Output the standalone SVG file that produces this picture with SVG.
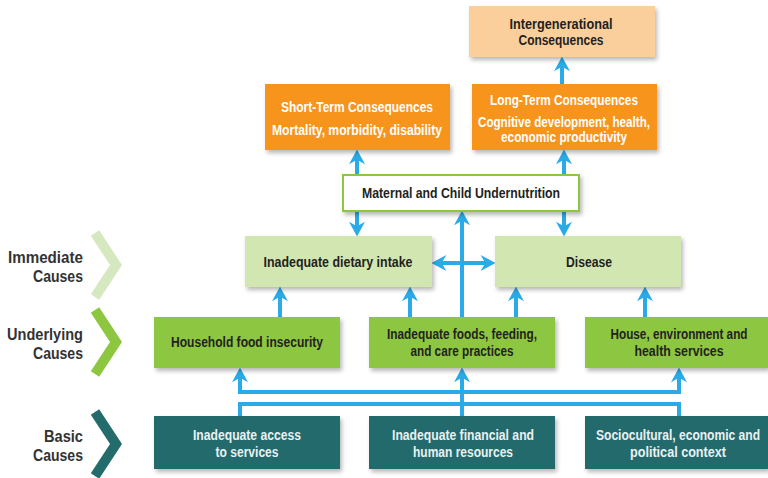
<svg xmlns="http://www.w3.org/2000/svg" width="768" height="478" viewBox="0 0 768 478">
<defs>
<filter id="sh" x="-10%" y="-10%" width="130%" height="140%">
<feDropShadow dx="2" dy="3" stdDeviation="2" flood-color="#000" flood-opacity="0.28"/>
</filter>
<marker id="ah" markerUnits="userSpaceOnUse" markerWidth="16" markerHeight="16" viewBox="0 0 14 14" refX="9" refY="7" orient="auto-start-reverse" overflow="visible">
<path d="M0,0 L13,7 L0,14 L4,7 z" fill="#2AAAE6"/>
</marker>
</defs>
<style>
text{font-family:"Liberation Sans",Arial,sans-serif;font-weight:bold;text-anchor:middle;dominant-baseline:central;font-size:14.5px}
.lbl{font-size:16px;fill:#333333;text-anchor:end}
.dk{fill:#231F20}
.wh{fill:#FFFFFF}
.lw{fill:#EAF1F2}
.con{fill:none;stroke:#2AAAE6;stroke-width:4}
.orange{fill:#F7941D;filter:url(#sh)}
.peach{fill:#FBCF9B;filter:url(#sh)}
.imm{fill:#D2E6B1;filter:url(#sh)}
.und{fill:#8DC63F;filter:url(#sh)}
.bas{fill:#246B6C;filter:url(#sh)}
.chev{fill:none;stroke-width:10;stroke-linejoin:miter;stroke-linecap:butt}
</style>
<rect width="768" height="478" fill="#FFFFFF"/>

<g id="levels">
<polyline class="chev" points="95,233 116,265 95,297" stroke="#D5E8BF"/>
<text class="lbl" x="83" y="257" textLength="75" lengthAdjust="spacingAndGlyphs">Immediate</text>
<text class="lbl" x="83" y="276" textLength="50" lengthAdjust="spacingAndGlyphs">Causes</text>
<polyline class="chev" points="95,310 116,342 95,374" stroke="#8DC63F"/>
<text class="lbl" x="83" y="334" textLength="76" lengthAdjust="spacingAndGlyphs">Underlying</text>
<text class="lbl" x="83" y="353" textLength="50" lengthAdjust="spacingAndGlyphs">Causes</text>
<polyline class="chev" points="95,412 116,444 95,476" stroke="#246B6C"/>
<text class="lbl" x="83" y="436" textLength="39" lengthAdjust="spacingAndGlyphs">Basic</text>
<text class="lbl" x="83" y="455" textLength="50" lengthAdjust="spacingAndGlyphs">Causes</text>
</g>

<g id="connectors">
<line class="con" x1="562" y1="84" x2="562" y2="61" marker-end="url(#ah)"/>
<line class="con" x1="357" y1="154" x2="357" y2="232" marker-start="url(#ah)" marker-end="url(#ah)"/>
<line class="con" x1="564" y1="154" x2="564" y2="232" marker-start="url(#ah)" marker-end="url(#ah)"/>
<line class="con" x1="462" y1="317" x2="462" y2="215" marker-end="url(#ah)"/>
<line class="con" x1="436" y1="263" x2="491" y2="263" marker-start="url(#ah)" marker-end="url(#ah)"/>
<line class="con" x1="280" y1="317" x2="280" y2="291" marker-end="url(#ah)"/>
<line class="con" x1="410" y1="317" x2="410" y2="291" marker-end="url(#ah)"/>
<line class="con" x1="516" y1="317" x2="516" y2="291" marker-end="url(#ah)"/>
<line class="con" x1="645" y1="317" x2="645" y2="291" marker-end="url(#ah)"/>
<polyline class="con" points="240,372 240,392 679,392 679,372" marker-start="url(#ah)" marker-end="url(#ah)"/>
<line class="con" x1="462" y1="417" x2="462" y2="372" marker-end="url(#ah)"/>
<polyline class="con" points="240,417 240,404 679,404 679,417"/>
</g>

<g id="intergenerational">
<rect class="peach" x="469" y="6" width="186" height="51"/>
<text class="dk" x="561" y="24" textLength="103" lengthAdjust="spacingAndGlyphs">Intergenerational</text>
<text class="dk" x="561" y="40" textLength="85" lengthAdjust="spacingAndGlyphs">Consequences</text>
</g>
<g id="short-term">
<rect class="orange" x="265" y="84" width="185" height="66"/>
<text class="wh" x="357" y="107" textLength="152" lengthAdjust="spacingAndGlyphs">Short-Term Consequences</text>
<text class="wh" x="357" y="130" textLength="170" lengthAdjust="spacingAndGlyphs">Mortality, morbidity, disability</text>
</g>
<g id="long-term">
<rect class="orange" x="472" y="84" width="185" height="66"/>
<text class="wh" x="564" y="100" textLength="148" lengthAdjust="spacingAndGlyphs">Long-Term Consequences</text>
<text class="wh" x="564" y="122" textLength="172" lengthAdjust="spacingAndGlyphs">Cognitive development, health,</text>
<text class="wh" x="564" y="137" textLength="126" lengthAdjust="spacingAndGlyphs">economic productivity</text>
</g>
<g id="undernutrition">
<rect x="343" y="175" width="236" height="36" fill="#FFFFFF" stroke="#8DC63F" stroke-width="2" filter="url(#sh)"/>
<text class="dk" x="461" y="193" textLength="198" lengthAdjust="spacingAndGlyphs">Maternal and Child Undernutrition</text>
</g>
<g id="dietary-intake">
<rect class="imm" x="245" y="236" width="187" height="51"/>
<text class="dk" x="338" y="262" textLength="149" lengthAdjust="spacingAndGlyphs">Inadequate dietary intake</text>
</g>
<g id="disease">
<rect class="imm" x="495" y="236" width="186" height="51"/>
<text class="dk" x="589" y="262" textLength="46" lengthAdjust="spacingAndGlyphs">Disease</text>
</g>
<g id="food-insecurity">
<rect class="und" x="154" y="317" width="186" height="51"/>
<text class="dk" x="247" y="342" textLength="152" lengthAdjust="spacingAndGlyphs">Household food insecurity</text>
</g>
<g id="care-practices">
<rect class="und" x="369" y="317" width="186" height="51"/>
<text class="dk" x="462" y="334" textLength="150" lengthAdjust="spacingAndGlyphs">Inadequate foods, feeding,</text>
<text class="dk" x="462" y="351" textLength="103" lengthAdjust="spacingAndGlyphs">and care practices</text>
</g>
<g id="health-services">
<rect class="und" x="585" y="317" width="183" height="51"/>
<text class="dk" x="679" y="334" textLength="137" lengthAdjust="spacingAndGlyphs">House, environment and</text>
<text class="dk" x="679" y="351" textLength="89" lengthAdjust="spacingAndGlyphs">health services</text>
</g>
<g id="access">
<rect class="bas" x="154" y="416" width="186" height="53"/>
<text class="lw" x="247" y="435" textLength="108" lengthAdjust="spacingAndGlyphs">Inadequate access</text>
<text class="lw" x="247" y="452" textLength="63" lengthAdjust="spacingAndGlyphs">to services</text>
</g>
<g id="resources">
<rect class="bas" x="369" y="416" width="186" height="53"/>
<text class="lw" x="463" y="435" textLength="142" lengthAdjust="spacingAndGlyphs">Inadequate financial and</text>
<text class="lw" x="463" y="452" textLength="100" lengthAdjust="spacingAndGlyphs">human resources</text>
</g>
<g id="context">
<rect class="bas" x="585" y="416" width="183" height="53"/>
<text class="lw" x="678" y="435" textLength="164" lengthAdjust="spacingAndGlyphs">Sociocultural, economic and</text>
<text class="lw" x="678" y="452" textLength="96" lengthAdjust="spacingAndGlyphs">political context</text>
</g>
</svg>
